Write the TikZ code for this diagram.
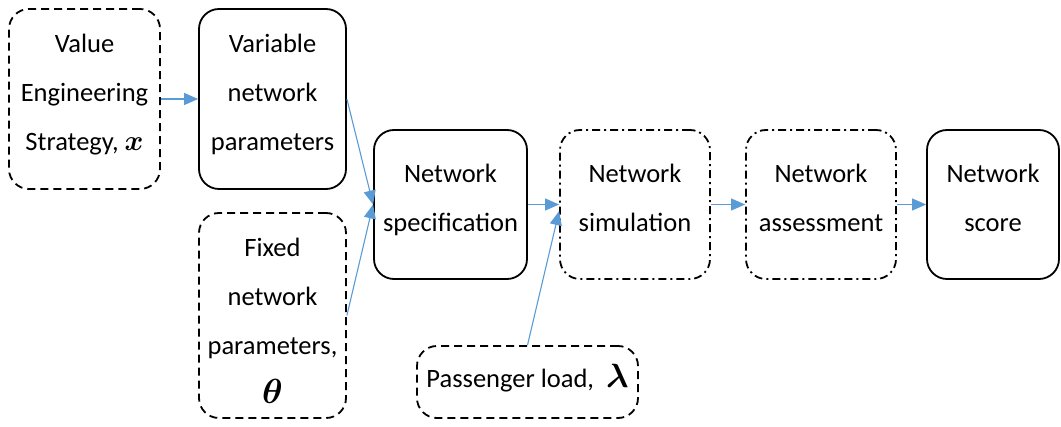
\documentclass[tikz,border=0pt]{standalone}
\usepackage{amsmath}
\usepackage{amssymb}
\usepackage{graphicx}
\usepackage{fontspec}
\setmainfont{Carlito}
\usepackage{tikz}
\usepackage{xcolor}
\usetikzlibrary{arrows.meta}
\definecolor{arrowblue}{RGB}{91,155,213}
\begin{document}
\begin{tikzpicture}[x=1pt,y=-1pt,
  box/.style={rectangle,rounded corners=20pt,draw=black,line width=1.8pt,align=center,inner sep=0pt,text depth=13pt,font=\fontsize{26.5}{49}\selectfont},
  dashbox/.style={box,dash pattern=on 8pt off 5pt},
  dotbox/.style={box,dash pattern=on 8pt off 4pt on 2pt off 4pt},
  link/.style={draw=arrowblue,line width=1.1pt,-{Triangle[length=14pt,width=12pt]}}]
  \useasboundingbox (0,0) rectangle (1061,427);
  \node[dashbox,minimum width=151pt,minimum height=180pt] (ve) at (84.5,99){Value\\Engineering\\Strategy, \scalebox{1.15}{$\boldsymbol{x}$}};
  \node[box,minimum width=147pt,minimum height=180pt] (var) at (272.5,99){Variable\\network\\parameters};
  \node[dashbox,minimum width=147pt,minimum height=205pt,text depth=0pt] (fix) at (272.5,315.5){\rule{0pt}{30pt}Fixed\\network\\parameters,\\\scalebox{1.4}{$\boldsymbol{\theta}$}};
  \node[box,minimum width=153pt,minimum height=149pt] (spec) at (450.5,204.5){Network\\specification};
  \node[dotbox,minimum width=150pt,minimum height=149pt] (sim) at (635,204.5){Network\\simulation};
  \node[dotbox,minimum width=150pt,minimum height=149pt] (asm) at (821,204.5){Network\\assessment};
  \node[box,minimum width=132pt,minimum height=149pt] (score) at (993,204.5){Network\\score};
  \node[dashbox,minimum width=221pt,minimum height=72pt] (load) at (527.5,382){Passenger load,\ \ \scalebox{1.35}{$\boldsymbol{\lambda}$}};
     \draw[link] (ve) -- (var);
     \draw[link] (var.east) -- (spec.west);
     \draw[link] (fix.east) -- (spec.west);
     \draw[link] (spec) -- (sim);
     \draw[link] (load.north) -- (sim.185);
     \draw[link] (sim) -- (asm);
     \draw[link] (asm) -- (score);
\end{tikzpicture}
\end{document}
